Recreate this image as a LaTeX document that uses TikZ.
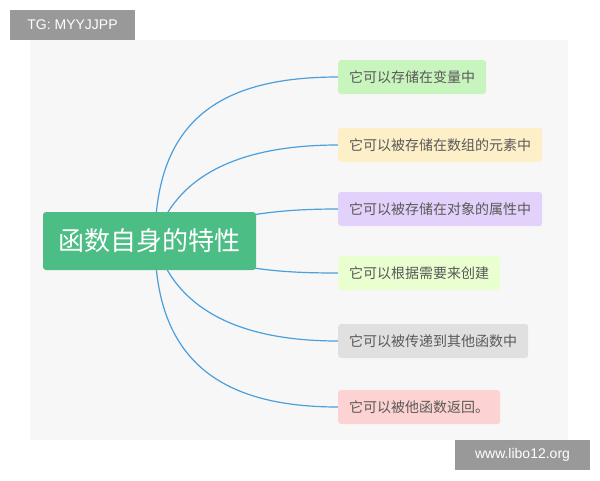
\documentclass[tikz,border=0pt]{standalone}
\usepackage{fontspec}
\setmainfont{Noto Sans CJK SC}
\setsansfont{Liberation Sans}
\usetikzlibrary{positioning}
\pgfdeclarelayer{back}
\pgfdeclarelayer{lines}
\pgfsetlayers{back,lines,main}
\definecolor{linkblue}{HTML}{4A9FDC}
\definecolor{rootgreen}{HTML}{4DBD86}

\begin{document}
\begin{tikzpicture}[x=1pt,y=-1pt,
    leaf/.style={rounded corners=3pt, minimum height=34pt, inner xsep=11pt, anchor=west,
      font=\fontsize{14}{16}\selectfont, text=black!65},
    link/.style={linkblue, line width=1.2pt}]
        \useasboundingbox (0,0) rectangle (600,480);
        \begin{pgfonlayer}{back}
        \fill[black!3] (30,40) rectangle (568,440);
        \end{pgfonlayer}
        \node[fill=black!40, text=white, font=\sffamily\fontsize{14}{16}\selectfont, minimum width=125pt, minimum height=30pt] (tag) at (72.5,25) {TG: MYYJJPP};
        \node[fill=black!40, text=white, font=\sffamily\fontsize{14}{16}\selectfont, minimum width=135pt, minimum height=30pt] (site) at (522.5,455) {www.libo12.org};

        \node[fill=rootgreen, text=white, rounded corners=3pt, minimum width=213pt, minimum height=58pt, inner xsep=0pt, font=\fontsize{26}{30}\selectfont] (root) at (149.5,241) {函数自身的特性};
        \coordinate (hub) at (155,241);

        \node[leaf, fill={rgb,255:red,200;green,245;blue,190}] (f1) at (338,77) {它可以存储在变量中};
        \node[leaf, fill={rgb,255:red,253;green,240;blue,200}] (f2) at (338,145) {它可以被存储在数组的元素中};
        \node[leaf, fill={rgb,255:red,226;green,209;blue,250}] (f3) at (338,209) {它可以被存储在对象的属性中};
        \node[leaf, fill={rgb,255:red,234;green,255;blue,208}] (f4) at (338,273) {它可以根据需要来创建};
        \node[leaf, fill={rgb,255:red,224;green,224;blue,224}] (f5) at (338,341) {它可以被传递到其他函数中};
        \node[leaf, fill={rgb,255:red,253;green,210;blue,210}] (f6) at (338,407) {它可以被他函数返回。};

        \begin{pgfonlayer}{lines}
        \draw[link] (hub) .. controls (155,120) and (220,77) .. (f1.west);
        \draw[link] (hub) .. controls (175,175) and (240,145) .. (f2.west);
        \draw[link] (hub) .. controls (230,214) and (280,209) .. (f3.west);
        \draw[link] (hub) .. controls (230,270) and (280,273) .. (f4.west);
        \draw[link] (hub) .. controls (175,310) and (240,341) .. (f5.west);
        \draw[link] (hub) .. controls (155,360) and (220,407) .. (f6.west);
        \end{pgfonlayer}
    \end{tikzpicture}
\end{document}
